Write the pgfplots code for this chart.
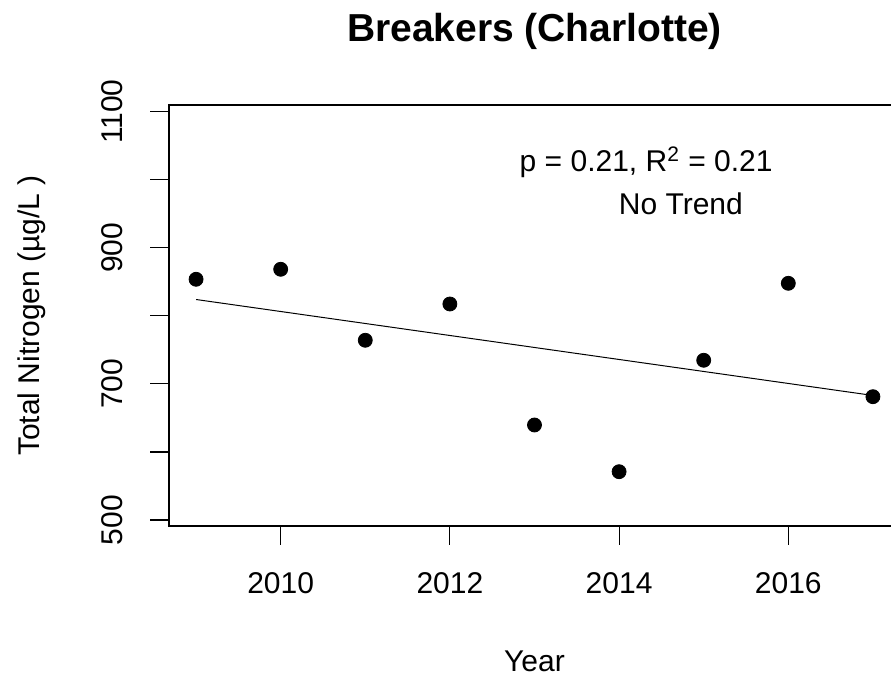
\documentclass[border=0pt]{standalone}
\usepackage{fontspec}
\setmainfont{Liberation Sans}
\usepackage{pgfplots}
\pgfplotsset{compat=1.18}
\begin{document}
\begin{tikzpicture}
\useasboundingbox (-84.5pt,-76.5pt) rectangle (361pt,263pt);
\clip (-84.5pt,-76.5pt) rectangle (361pt,263pt);
\begin{axis}[
  at={(0pt,0pt)}, anchor=south west,
  scale only axis, width=365.5pt, height=210.5pt,
  xmin=2008.68, xmax=2017.32, ymin=491.2, ymax=1109.8,
  axis line style={line width=0.6pt},
  xtick={2010,2012,2014,2016}, xticklabels={2010,2012,2014,2016},
  ytick={500,600,...,1100}, yticklabels={500,,700,,900,,1100},
  xtick pos=bottom, ytick pos=left, tick align=outside, major tick length=9.5pt,
  tick style={line width=0.6pt, black},
  ticklabel style={font=\fontsize{15}{18}\selectfont},
  xticklabel style={anchor=base, yshift=-24.25pt},
  yticklabel style={xshift=-14pt, rotate=90, anchor=base},
  label style={font=\fontsize{15}{18}\selectfont},
  xlabel={Year},
  xlabel style={at={(axis description cs:0.5,-0.3468)}, anchor=base},
  ylabel={Total Nitrogen (µg/L )},
  ylabel style={at={(axis description cs:-0.1765,0.5)}, rotate=0, anchor=base},
  title={Breakers (Charlotte)},
  title style={at={(axis description cs:0.5,1.1212)}, anchor=base, font=\fontsize{19.5}{23}\selectfont\bfseries},
  clip=false,
]
\addplot[only marks, mark=*, mark size=3.5pt, black] coordinates {
(2009,853.7) (2010,868.4) (2011,764.1) (2012,817.4) (2013,639.6)
(2014,571.0) (2015,734.7) (2016,847.8) (2017,681.2)
};
\addplot[black, line width=0.5pt] coordinates {(2009,824) (2017,683)};
\node[anchor=base, font=\fontsize{15}{18}\selectfont] at (axis cs:2014.32,1011.8) {p = 0.21, R\textsuperscript{2} = 0.21};
\node[anchor=base, font=\fontsize{15}{18}\selectfont] at (axis cs:2014.73,948.2) {No Trend};
\end{axis}
\end{tikzpicture}
\end{document}
